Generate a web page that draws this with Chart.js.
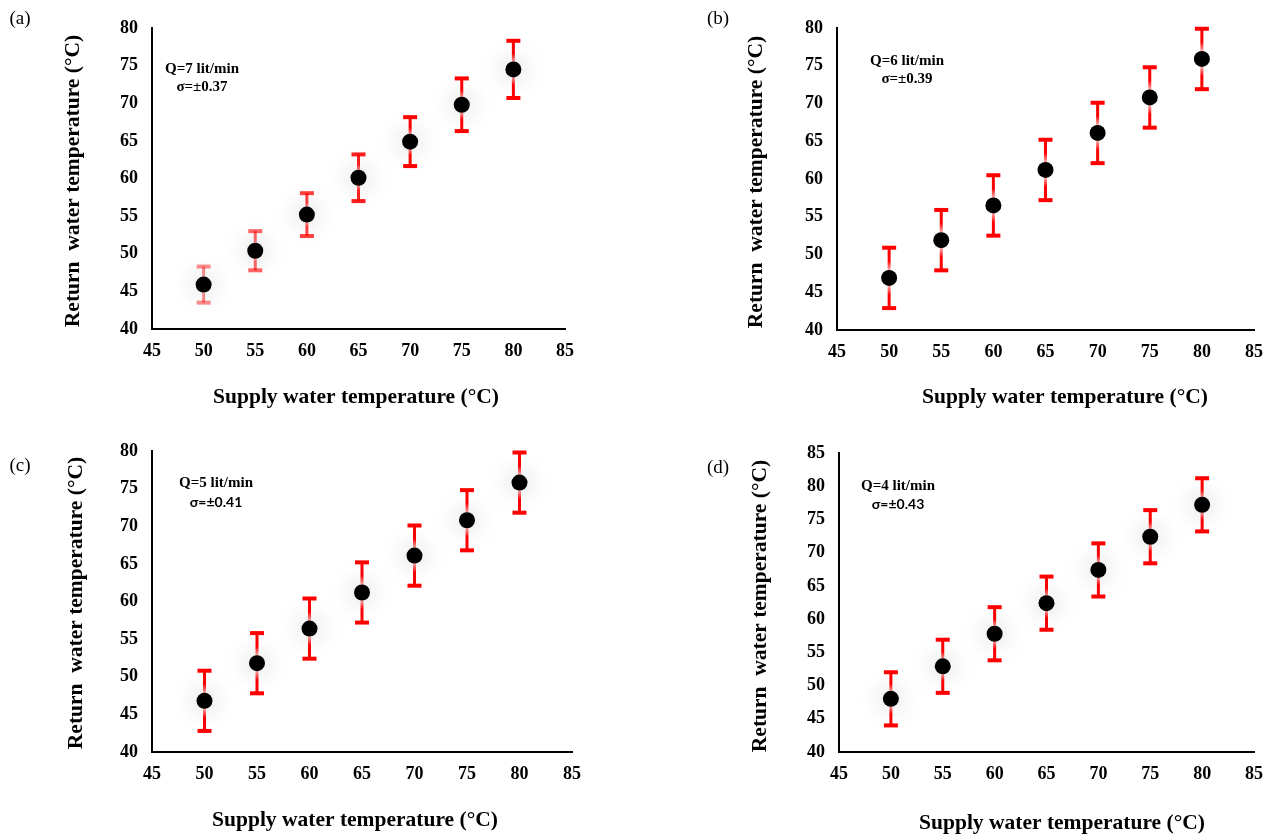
<!DOCTYPE html>
<html>
<head>
<meta charset="utf-8">
<script src="https://cdn.jsdelivr.net/npm/chart.js@4.4.1/dist/chart.umd.min.js"></script>
<style>
  html, body { margin: 0; padding: 0; background: #fff; }
  #wrap { position: relative; width: 1275px; height: 834px; overflow: hidden; background: #fff; }
  #wrap canvas { position: absolute; }
</style>
</head>
<body>
<div id="wrap">
  <canvas id="panelA"></canvas>
  <canvas id="panelB"></canvas>
  <canvas id="panelC"></canvas>
  <canvas id="panelD"></canvas>
</div>
<script>
// Supply water temperature (°C) — shared x values for all four flow rates
const supplyTemps = [50, 55, 60, 65, 70, 75, 80];

// Return water temperature (°C) and its uncertainty, per flow rate
const returnQ7 = [45.9, 50.4, 55.2, 60.1, 64.9, 69.8, 74.5];
const errorQ7  = [2.4, 2.6, 2.85, 3.1, 3.25, 3.5, 3.8];

const returnQ6 = [46.9, 51.9, 56.5, 61.2, 66.1, 70.8, 75.9];
const errorQ6  = [4, 4, 4, 4, 4, 4, 4];

const returnQ5 = [46.8, 51.8, 56.4, 61.2, 66.1, 70.8, 75.8];
const errorQ5  = [4, 4, 4, 4, 4, 4, 4];

const returnQ4 = [48.0, 52.9, 57.8, 62.4, 67.4, 72.4, 77.2];
const errorQ4  = [4, 4, 4, 4, 4, 4, 4];

// Axis ticks
const xTicks = [45, 50, 55, 60, 65, 70, 75, 80, 85];
const yTicksLow  = [40, 45, 50, 55, 60, 65, 70, 75, 80];
const yTicksHigh = [40, 45, 50, 55, 60, 65, 70, 75, 80, 85];

// Annotation texts
const flowLabels  = ['Q=7 lit/min', 'Q=6 lit/min', 'Q=5 lit/min', 'Q=4 lit/min'];
const sigmaLabels = ['σ=±0.37', 'σ=±0.39', 'σ=±0.41', 'σ=±0.43'];
const panelLabels = ['(a)', '(b)', '(c)', '(d)'];
const xTitle = 'Supply water temperature (°C)';
const yTitle = 'Return  water temperature (°C)';

const SERIF = '"Liberation Serif", "Times New Roman", serif';
const SANS = 'Lato, "Open Sans", sans-serif';
const RED = '#ff0000';

// Vertical error bars with caps; stems fade towards the marker
function errorBarPlugin(errors, alphas) {
  return {
    id: 'errorBars',
    beforeDatasetsDraw(chart) {
      const { ctx, scales: { x, y } } = chart;
      const pts = chart.data.datasets[0].data;
      pts.forEach((p, i) => {
        const px = x.getPixelForValue(p.x);
        const top = y.getPixelForValue(p.y + errors[i]);
        const bot = y.getPixelForValue(p.y - errors[i]);
        ctx.save();
        ctx.globalAlpha = alphas ? alphas[i] : 1;
        const g = ctx.createLinearGradient(0, top, 0, bot);
        g.addColorStop(0, RED);
        g.addColorStop(0.22, RED);
        g.addColorStop(0.44, '#ffffff');
        g.addColorStop(0.56, '#ffffff');
        g.addColorStop(0.78, RED);
        g.addColorStop(1, RED);
        ctx.strokeStyle = g;
        ctx.lineWidth = 3;
        ctx.beginPath();
        ctx.moveTo(px, top);
        ctx.lineTo(px, bot);
        ctx.stroke();
        ctx.fillStyle = RED;
        const cw = 14, ch = 4;
        ctx.fillRect(px - cw / 2, top - ch / 2, cw, ch);
        ctx.fillRect(px - cw / 2, bot - ch / 2, cw, ch);
        ctx.restore();
      });
    }
  };
}

// Soft grey glow around the markers
function haloPlugin(enabled) {
  return {
    id: 'markerHalo',
    beforeDatasetDraw(chart) {
      if (!enabled) return;
      const ctx = chart.ctx;
      ctx.save();
      ctx.shadowColor = 'rgba(0,0,0,0.28)';
      ctx.shadowBlur = 24;
    },
    afterDatasetDraw(chart) {
      if (!enabled) return;
      chart.ctx.restore();
    }
  };
}

// Free text: panel letter, annotations, axis titles
function textPlugin(items) {
  return {
    id: 'panelText',
    afterDraw(chart) {
      const ctx = chart.ctx;
      items.forEach(t => {
        ctx.save();
        ctx.font = t.font;
        ctx.fillStyle = '#000';
        ctx.textAlign = 'center';
        ctx.textBaseline = 'middle';
        ctx.translate(t.x, t.y);
        if (t.rot) ctx.rotate(t.rot);
        ctx.fillText(t.text, 0, 0);
        ctx.restore();
      });
    }
  };
}

function makePanel(cfg) {
  const canvas = document.getElementById(cfg.id);
  const { ox, oy, w, h } = cfg.box;
  const { L, T, R, B } = cfg.area;
  canvas.width = w;
  canvas.height = h;
  canvas.style.left = ox + 'px';
  canvas.style.top = oy + 'px';

  const points = supplyTemps.map((s, i) => ({ x: s, y: cfg.values[i] }));
  const yTicks = cfg.yTicks;
  const tickFont = { family: SERIF, size: 18, weight: 'bold' };

  const texts = [
    { text: cfg.panel, x: cfg.pos.panel[0] - ox, y: cfg.pos.panel[1] - oy, font: '19px ' + SERIF },
    { text: cfg.flow, x: cfg.pos.flow[0] - ox, y: cfg.pos.flow[1] - oy, font: 'bold 15px ' + SERIF },
    { text: cfg.sigma, x: cfg.pos.sigma[0] - ox, y: cfg.pos.sigma[1] - oy, font: cfg.sigmaFont },
    { text: xTitle, x: cfg.pos.xt[0] - ox, y: cfg.pos.xt[1] - oy, font: 'bold 21.5px ' + SERIF },
    { text: yTitle, x: cfg.pos.yt[0] - ox, y: cfg.pos.yt[1] - oy, font: 'bold 21.5px ' + SERIF, rot: -Math.PI / 2 }
  ];

  return new Chart(canvas, {
    type: 'scatter',
    data: {
      datasets: [{
        data: points,
        backgroundColor: '#000',
        borderColor: '#000',
        borderWidth: 0,
        pointRadius: 8,
        pointHoverRadius: 8
      }]
    },
    options: {
      responsive: false,
      animation: false,
      events: [],
      layout: { padding: { left: 0, top: T - oy, right: (ox + w) - R, bottom: 0 } },
      plugins: { legend: { display: false }, tooltip: { enabled: false } },
      scales: {
        x: {
          type: 'linear',
          min: xTicks[0],
          max: xTicks[xTicks.length - 1],
          afterBuildTicks: s => { s.ticks = xTicks.map(v => ({ value: v })); },
          ticks: { color: '#000', font: tickFont, padding: 12, maxRotation: 0, autoSkip: false },
          grid: { display: false, drawTicks: false },
          border: { display: true, color: '#000', width: 2 },
          afterFit: s => { s.height = (oy + h) - B; }
        },
        y: {
          type: 'linear',
          min: yTicks[0],
          max: yTicks[yTicks.length - 1],
          afterBuildTicks: s => { s.ticks = yTicks.map(v => ({ value: v })); },
          ticks: { color: '#000', font: tickFont, padding: 14, autoSkip: false },
          grid: { display: false, drawTicks: false },
          border: { display: true, color: '#000', width: 2 },
          afterFit: s => { s.width = L - ox; }
        }
      }
    },
    plugins: [errorBarPlugin(cfg.errors, cfg.alphas), haloPlugin(cfg.halo), textPlugin(texts)]
  });
}

makePanel({
  id: 'panelA', box: { ox: 0, oy: 0, w: 637, h: 417 }, area: { L: 152, T: 28, R: 565, B: 329 },
  values: returnQ7, errors: errorQ7, alphas: [0.45, 0.6, 0.75, 0.88, 1, 1, 1], halo: true,
  yTicks: yTicksLow, panel: panelLabels[0], flow: flowLabels[0], sigma: sigmaLabels[0],
  sigmaFont: 'bold 15px ' + SERIF,
  pos: { panel: [20, 19], flow: [202, 69], sigma: [202, 87], xt: [356, 397], yt: [73, 181] }
});

makePanel({
  id: 'panelB', box: { ox: 640, oy: 0, w: 635, h: 417 }, area: { L: 837, T: 28, R: 1259, B: 330 },
  values: returnQ6, errors: errorQ6, alphas: null, halo: false,
  yTicks: yTicksLow, panel: panelLabels[1], flow: flowLabels[1], sigma: sigmaLabels[1],
  sigmaFont: 'bold 15px ' + SERIF,
  pos: { panel: [718, 19], flow: [907, 61], sigma: [907, 79], xt: [1065, 397], yt: [756, 182] }
});

makePanel({
  id: 'panelC', box: { ox: 0, oy: 420, w: 640, h: 414 }, area: { L: 152, T: 451, R: 572, B: 752 },
  values: returnQ5, errors: errorQ5, alphas: null, halo: true,
  yTicks: yTicksLow, panel: panelLabels[2], flow: flowLabels[2], sigma: sigmaLabels[2],
  sigmaFont: 'bold 14px ' + SANS,
  pos: { panel: [20, 466], flow: [216, 483], sigma: [216, 502], xt: [355, 820], yt: [76, 603] }
});

makePanel({
  id: 'panelD', box: { ox: 640, oy: 420, w: 635, h: 414 }, area: { L: 839, T: 453, R: 1262, B: 752 },
  values: returnQ4, errors: errorQ4, alphas: null, halo: true,
  yTicks: yTicksHigh, panel: panelLabels[3], flow: flowLabels[3], sigma: sigmaLabels[3],
  sigmaFont: 'bold 14px ' + SANS,
  pos: { panel: [718, 468], flow: [898, 486], sigma: [898, 504], xt: [1062, 823], yt: [760, 606] }
});
</script>
</body>
</html>
